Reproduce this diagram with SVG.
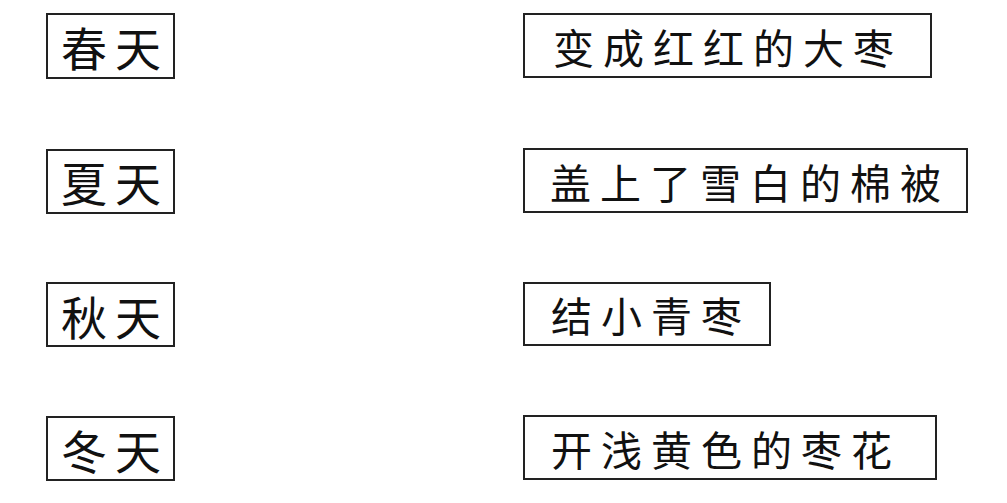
<svg xmlns="http://www.w3.org/2000/svg" width="1007" height="503" viewBox="0 0 1007 503">
<style>
rect.b{fill:#fff;stroke:#222;stroke-width:2}
text{font-family:"Noto Sans CJK SC","Noto Sans CJK JP",sans-serif;fill:#111;dominant-baseline:central}
text.s{font-size:46px;letter-spacing:8px}
text.l{font-size:41px;letter-spacing:9px}
</style>
<rect width="1007" height="503" fill="#fff"/>
<g id="connectors"></g>
<g id="spring"><rect class="b" x="47" y="14" width="127" height="64"/><text class="s" x="61" y="46">春天</text></g>
<g id="summer"><rect class="b" x="47" y="150" width="127" height="63"/><text class="s" x="61" y="181">夏天</text></g>
<g id="autumn"><rect class="b" x="47" y="283" width="127" height="63"/><text class="s" x="61" y="314.5">秋天</text></g>
<g id="winter"><rect class="b" x="47" y="417" width="127" height="63"/><text class="s" x="61" y="448.5">冬天</text></g>
<g id="red-dates"><rect class="b" x="524" y="14" width="407" height="63"/><text class="l" x="553" y="45.5">变成红红的大枣</text></g>
<g id="snow-quilt"><rect class="b" x="524" y="149" width="443" height="63"/><text class="l" x="550" y="180.5">盖上了雪白的棉被</text></g>
<g id="green-dates"><rect class="b" x="524" y="283" width="246" height="62"/><text class="l" x="551" y="314">结小青枣</text></g>
<g id="flowers"><rect class="b" x="524" y="416" width="412" height="63"/><text class="l" x="551" y="447.5">开浅黄色的枣花</text></g>
</svg>
